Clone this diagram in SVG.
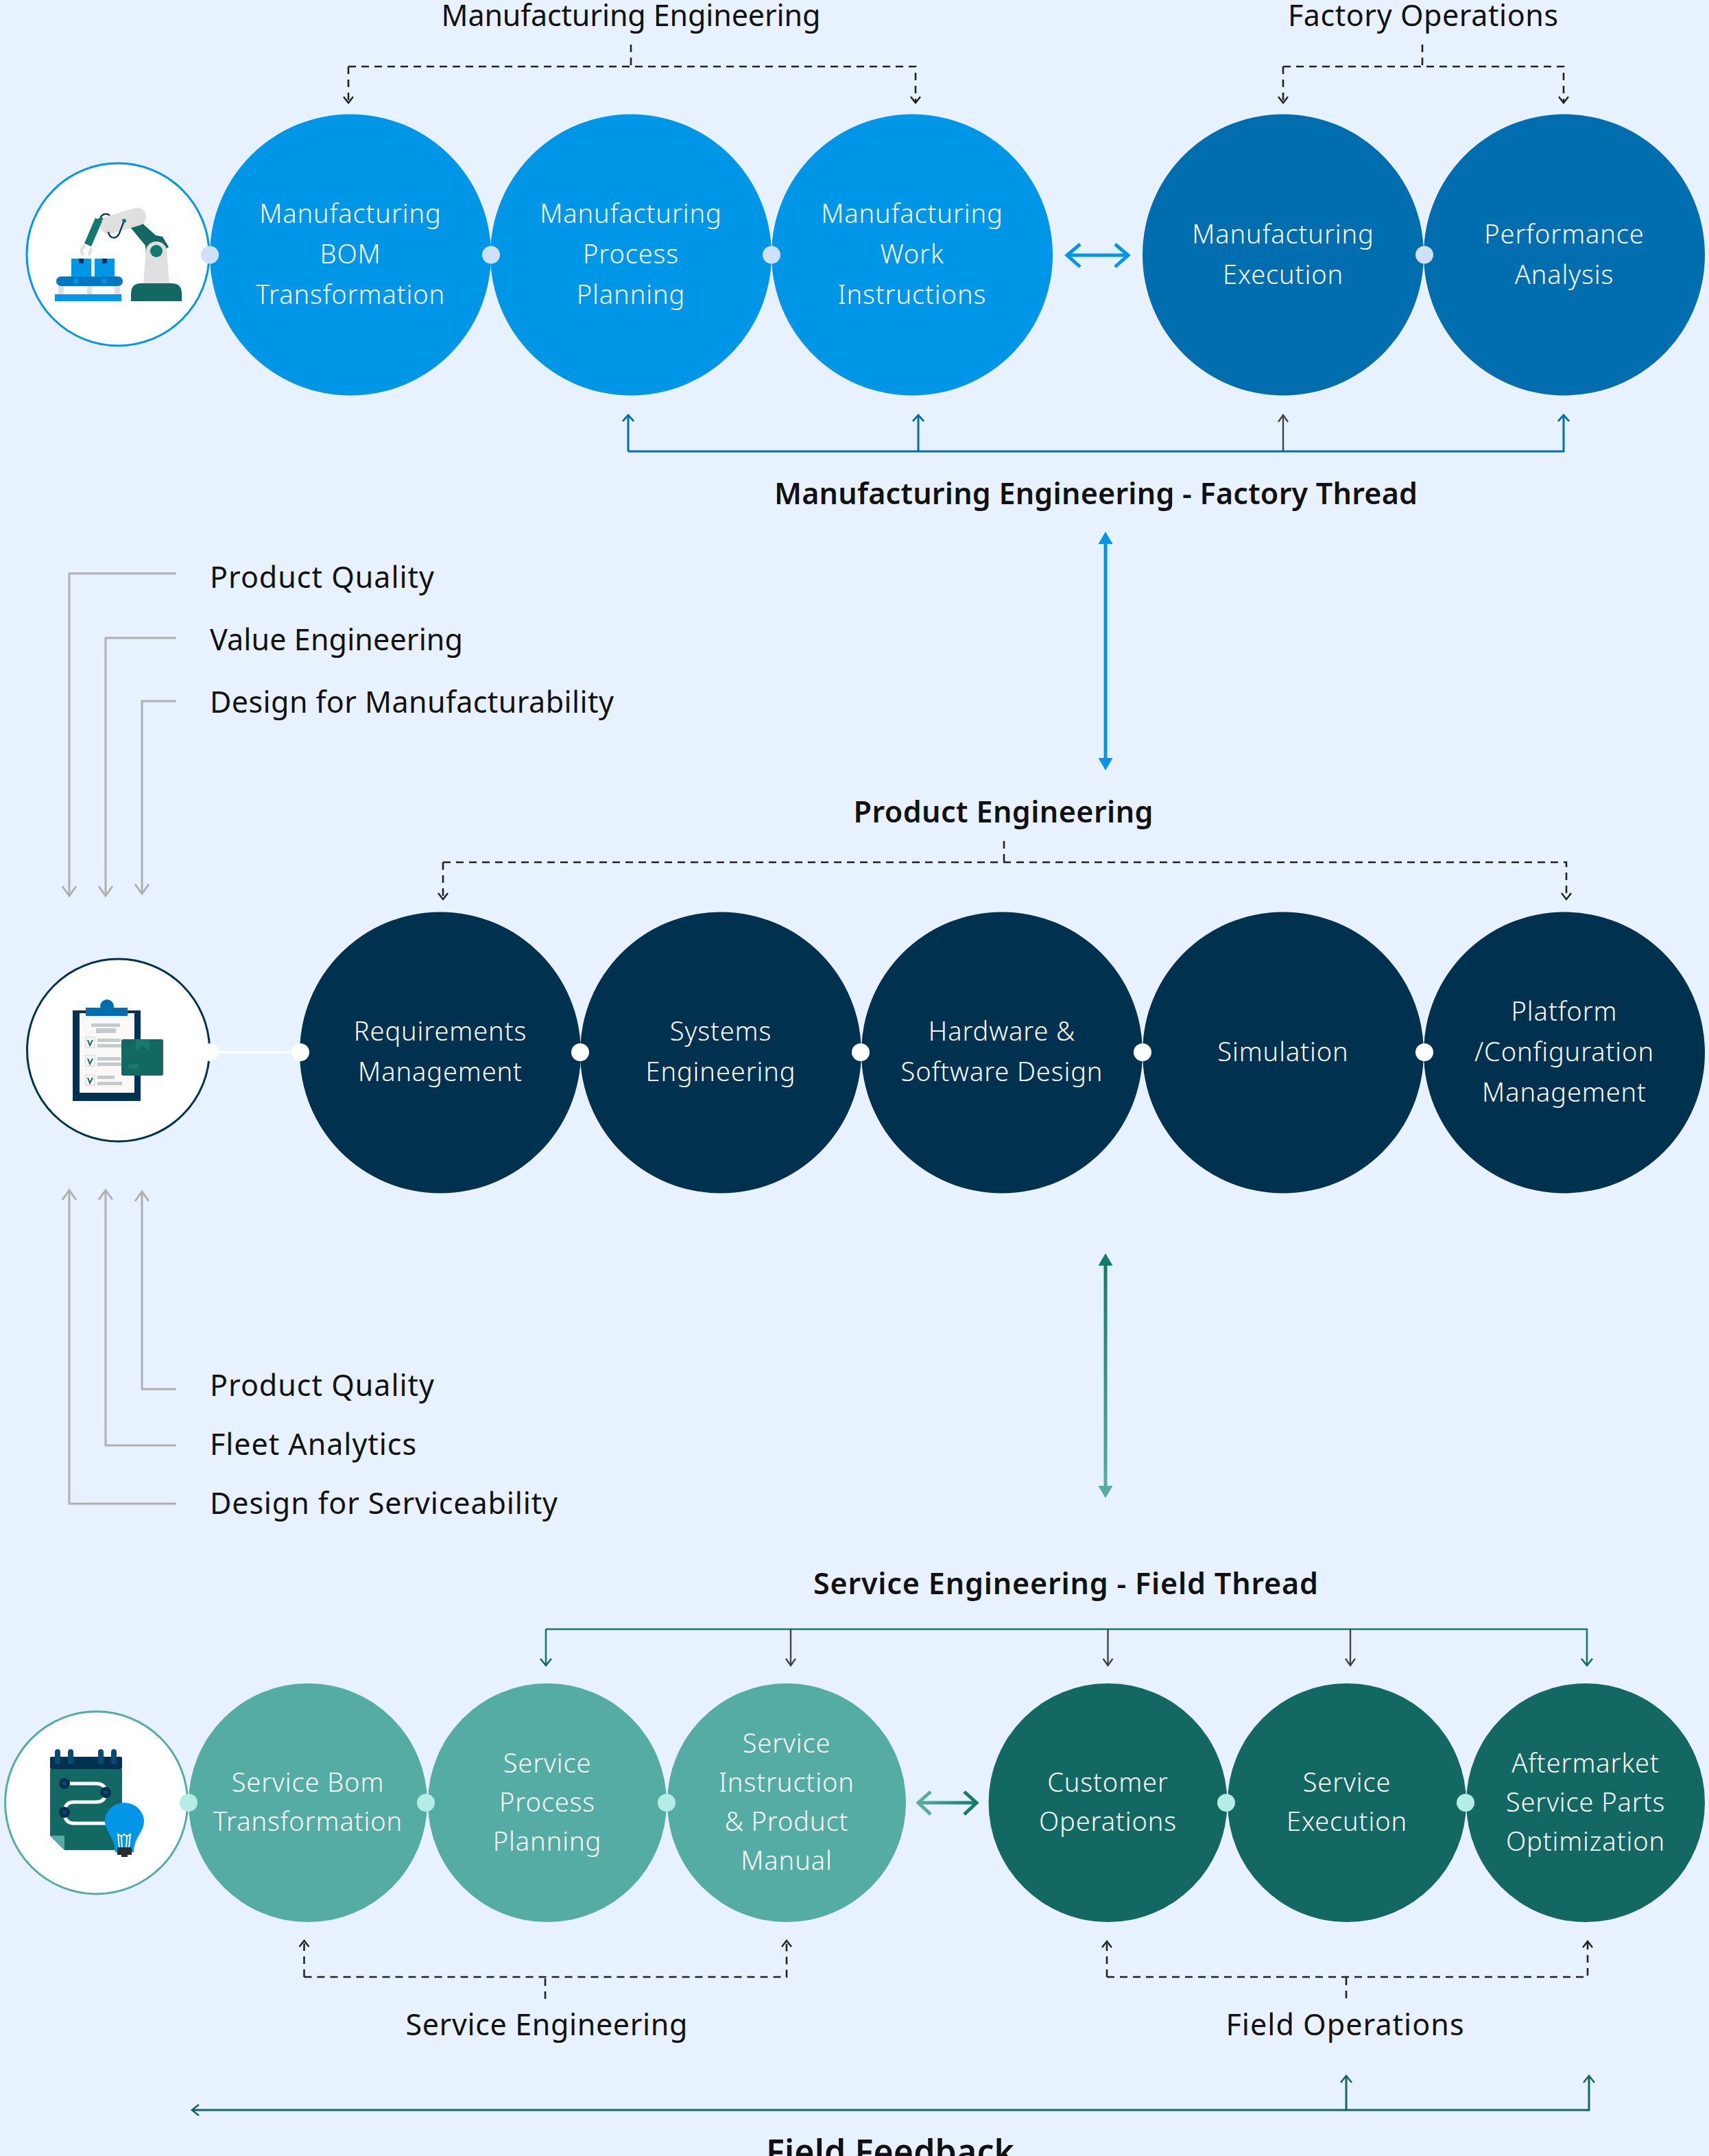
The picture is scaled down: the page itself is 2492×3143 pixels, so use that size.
<svg xmlns="http://www.w3.org/2000/svg" width="2492" height="3143" viewBox="0 0 2492 3143">
<style>
text{font-family:"Noto Sans","Liberation Sans",sans-serif;text-anchor:middle}
.n{fill:#fff;font-size:38px;letter-spacing:.9px;font-weight:300}
.h{fill:#111;font-size:43px}
.b{fill:#111;font-size:43px;font-weight:600}
.l{fill:#111;font-size:43px;text-anchor:start}
.c{fill:none}
.dash{stroke:#222;stroke-width:2.6;stroke-dasharray:11 8}
.mb{fill:#0096e8}.md{fill:#006eae}.pn{fill:#00324f}.lt{fill:#55aca5}.dt{fill:#136864}
.db{fill:#cfe0fb}.dw{fill:#fff}.dg{fill:#b5ece6}
</style>
<defs>
<marker id="aK" markerUnits="userSpaceOnUse" markerWidth="24" markerHeight="24" refX="16" refY="10" orient="auto" overflow="visible"><path d="M7 3L16 10L7 17" fill="none" stroke="#222" stroke-width="2.4"/></marker>
<marker id="aD" markerUnits="userSpaceOnUse" markerWidth="24" markerHeight="24" refX="16" refY="10" orient="auto" overflow="visible"><path d="M6 3L16 10L6 17" fill="none" stroke="#444" stroke-width="2.4"/></marker>
<marker id="aB" markerUnits="userSpaceOnUse" markerWidth="24" markerHeight="24" refX="16" refY="10" orient="auto" overflow="visible"><path d="M7 2L16 10L7 18" fill="none" stroke="#006eae" stroke-width="2.8"/></marker>
<marker id="aT" markerUnits="userSpaceOnUse" markerWidth="24" markerHeight="24" refX="16" refY="10" orient="auto" overflow="visible"><path d="M6 2L16 10L6 18" fill="none" stroke="#136864" stroke-width="2.6"/></marker>
<marker id="aG" markerUnits="userSpaceOnUse" markerWidth="32" markerHeight="32" refX="20" refY="12" orient="auto" overflow="visible"><path d="M6 2L20 12L6 22" fill="none" stroke="#b0b0b0" stroke-width="3"/></marker>
<linearGradient id="gv" gradientUnits="userSpaceOnUse" x1="1612" y1="1840" x2="1612" y2="2170"><stop offset="0" stop-color="#147a6e"/><stop offset="1" stop-color="#55aca5"/></linearGradient>
<linearGradient id="gh" gradientUnits="userSpaceOnUse" x1="1340" y1="2628" x2="1425" y2="2628"><stop offset="0" stop-color="#55aca5"/><stop offset="1" stop-color="#147a6e"/></linearGradient>
</defs>
<rect width="2492" height="3143" fill="#e7f1ff"/>

<g id="connectors" class="c">
<path class="dash" d="M920 65V97M508 97H1335V150" marker-end="url(#aK)"/>
<path class="dash" d="M508 97V150" marker-end="url(#aK)"/>
<path class="dash" d="M2074 65V97M1871 97H2280V150" marker-end="url(#aK)"/>
<path class="dash" d="M1871 97V150" marker-end="url(#aK)"/>
<path d="M916 658H2280V605" fill="none" stroke="#006eae" stroke-width="3" marker-end="url(#aB)"/>
<path d="M916 658V605" fill="none" stroke="#006eae" stroke-width="3" marker-end="url(#aB)"/>
<path d="M1339 658V605" fill="none" stroke="#006eae" stroke-width="3" marker-end="url(#aB)"/>
<path d="M1871 658V605" fill="none" stroke="#444" stroke-width="2.4" marker-end="url(#aD)"/>

<path d="M1560 372H1641" fill="none" stroke="#0096e8" stroke-width="5"/>
<path d="M1575 356L1556 372L1575 389M1626 356L1645 372L1626 389" fill="none" stroke="#0096e8" stroke-width="5"/>

<path d="M1612 790V1108" fill="none" stroke="#0096e8" stroke-width="5"/>
<path d="M1612 775L1622.500 793H1601.500ZM1612 1123L1622.500 1105H1601.500Z" fill="#0096e8"/>

<path d="M257 836H101V1306" fill="none" stroke="#b0b0b0" stroke-width="3" marker-end="url(#aG)"/>
<path d="M257 930H154V1306" fill="none" stroke="#b0b0b0" stroke-width="3" marker-end="url(#aG)"/>
<path d="M257 1022H207V1303" fill="none" stroke="#b0b0b0" stroke-width="3" marker-end="url(#aG)"/>
<path d="M257 2192H101V1735" fill="none" stroke="#b0b0b0" stroke-width="3" marker-end="url(#aG)"/>
<path d="M257 2107H154V1735" fill="none" stroke="#b0b0b0" stroke-width="3" marker-end="url(#aG)"/>
<path d="M257 2025H207V1737" fill="none" stroke="#b0b0b0" stroke-width="3" marker-end="url(#aG)"/>

<path class="dash" d="M1464 1226V1257M646 1257H2284V1311" marker-end="url(#aK)"/>
<path class="dash" d="M646 1257V1311" marker-end="url(#aK)"/>
<path d="M306 1534H438" fill="none" stroke="#fff" stroke-width="3"/>

<path d="M1612 1842V2170" fill="none" stroke="url(#gv)" stroke-width="5"/>
<path d="M1612 1827L1622.500 1845H1601.500Z" fill="#147a6e"/>
<path d="M1612 2184L1622.500 2166H1601.500Z" fill="#55aca5"/>

<path d="M796 2375H2314V2428" fill="none" stroke="#147a6e" stroke-width="2.6" marker-end="url(#aT)"/>
<path d="M796 2375V2428" fill="none" stroke="#147a6e" stroke-width="2.6" marker-end="url(#aT)"/>
<path d="M1153 2375V2428" fill="none" stroke="#444" stroke-width="2.4" marker-end="url(#aD)"/>
<path d="M1615.500 2375V2428" fill="none" stroke="#444" stroke-width="2.4" marker-end="url(#aD)"/>
<path d="M1969 2375V2428" fill="none" stroke="#444" stroke-width="2.4" marker-end="url(#aD)"/>

<path d="M1342 2628H1421" fill="none" stroke="url(#gh)" stroke-width="5"/>
<path d="M1357 2612L1339 2628L1357 2645" fill="none" stroke="#55aca5" stroke-width="5"/>
<path d="M1406 2612L1424 2628L1406 2645" fill="none" stroke="#147a6e" stroke-width="5"/>

<path class="dash" d="M795 2914V2882" />
<path class="dash" d="M443.500 2882V2829" marker-end="url(#aK)"/>
<path class="dash" d="M443.500 2882H1147V2829" marker-end="url(#aK)"/>
<path class="dash" d="M1963 2913V2882"/>
<path class="dash" d="M1614 2882V2830" marker-end="url(#aK)"/>
<path class="dash" d="M1614 2882H2315V2830" marker-end="url(#aK)"/>

<path d="M2317 3076H280" fill="none" stroke="#136864" stroke-width="3" marker-end="url(#aT)"/>
<path d="M2317 3077.500V3026" fill="none" stroke="#136864" stroke-width="3" marker-end="url(#aT)"/>
<path d="M1963 3076V3026" fill="none" stroke="#136864" stroke-width="3" marker-end="url(#aT)"/>
</g>

<g id="labels">
<text class="h" x="920" y="38" textLength="553" lengthAdjust="spacing">Manufacturing Engineering</text>
<text class="h" x="2075" y="38" textLength="394" lengthAdjust="spacing">Factory Operations</text>
<text class="b" x="1598" y="735" textLength="938" lengthAdjust="spacing">Manufacturing Engineering - Factory Thread</text>
<text class="l" x="306" y="857" textLength="327" lengthAdjust="spacing">Product Quality</text>
<text class="l" x="306" y="948" textLength="369" lengthAdjust="spacing">Value Engineering</text>
<text class="l" x="306" y="1039" textLength="589" lengthAdjust="spacing">Design for Manufacturability</text>
<text class="b" x="1463" y="1199" textLength="437" lengthAdjust="spacing">Product Engineering</text>
<text class="l" x="306" y="2035" textLength="327" lengthAdjust="spacing">Product Quality</text>
<text class="l" x="306" y="2121" textLength="301" lengthAdjust="spacing">Fleet Analytics</text>
<text class="l" x="306" y="2207" textLength="507" lengthAdjust="spacing">Design for Serviceability</text>
<text class="b" x="1554" y="2324" textLength="736" lengthAdjust="spacing">Service Engineering - Field Thread</text>
<text class="h" x="797" y="2967" textLength="411" lengthAdjust="spacing">Service Engineering</text>
<text class="h" x="1961" y="2967" textLength="347" lengthAdjust="spacing">Field Operations</text>
<text class="b" x="1298" y="3155" style="font-size:50px" textLength="362" lengthAdjust="spacing">Field Feedback</text>
</g>

<g id="icon-manufacturing">
<circle cx="172" cy="371" r="133" fill="#fff" stroke="#0096e8" stroke-width="3"/>
<rect x="80" y="429" width="97" height="10" fill="#0096e8"/>
<rect x="85" y="408" width="8" height="21" fill="#dfdfdf"/><rect x="127" y="408" width="7" height="21" fill="#dfdfdf"/><rect x="167" y="408" width="8" height="21" fill="#dfdfdf"/>
<rect x="82" y="403" width="97" height="14" rx="7" fill="#0078c0"/>
<circle cx="111" cy="410" r="3.500" fill="#0096e8"/><circle cx="152" cy="410" r="3.500" fill="#0096e8"/>
<rect x="104" y="377" width="29" height="26" fill="#0096e8"/><rect x="138" y="377" width="29" height="26" fill="#0096e8"/>
<rect x="115" y="377" width="7" height="7" fill="#00324f"/><rect x="149" y="377" width="7" height="7" fill="#00324f"/>
<path d="M191 439V428Q191 413 206 413H250Q265 413 265 428V439Z" fill="#136864"/>
<path d="M213 366A15 14 0 0 1 243 366L247 413H209Z" fill="#dfdfdf"/>
<path d="M175 313L188 307L195 320L183 332L207 325L227 343L237 345L246 360L243 362L213 370L212 358Z" fill="#136864"/>
<path d="M213 366A15 14 0 0 1 243 366L243.500 372H212.500Z" fill="#dfdfdf"/>
<circle cx="228" cy="366" r="9" fill="#147a6e"/>
<path d="M146 318C150 310 158 310 162 317" fill="none" stroke="#00324f" stroke-width="2.200"/>
<path d="M159 328L200 316" stroke="#dfdfdf" stroke-width="26" stroke-linecap="round" fill="none"/>
<path d="M158 338C160 349 170 349 174 340L181 322" fill="none" stroke="#00324f" stroke-width="2.200"/>
<circle cx="181" cy="322" r="3" fill="#147a6e"/>
<path d="M144 320L128 357" stroke="#147a6e" stroke-width="11" fill="none"/>
<path d="M143 319L146 323" stroke="#147a6e" stroke-width="12" fill="none"/>
<path d="M124 358Q115 364 122 372M132 361Q134 366 129 372" fill="none" stroke="#dfdfdf" stroke-width="4"/>
</g>
<g id="node-bom"><circle class="mb" cx="511" cy="371.500" r="205"/><text class="n"><tspan x="511" y="324.500">Manufacturing</tspan><tspan x="511" y="384">BOM</tspan><tspan x="511" y="443">Transformation</tspan></text></g>
<g id="node-process"><circle class="mb" cx="920" cy="371.500" r="205"/><text class="n"><tspan x="920" y="324.500">Manufacturing</tspan><tspan x="920" y="384">Process</tspan><tspan x="920" y="443">Planning</tspan></text></g>
<g id="node-work"><circle class="mb" cx="1330" cy="371.500" r="205"/><text class="n"><tspan x="1330" y="324.500">Manufacturing</tspan><tspan x="1330" y="384">Work</tspan><tspan x="1330" y="443">Instructions</tspan></text></g>
<g id="node-exec"><circle class="md" cx="1871" cy="371.500" r="205"/><text class="n"><tspan x="1871" y="354.500">Manufacturing</tspan><tspan x="1871" y="413.500">Execution</tspan></text></g>
<g id="node-perf"><circle class="md" cx="2281" cy="371.500" r="205"/><text class="n"><tspan x="2281" y="354.500">Performance</tspan><tspan x="2281" y="413.500">Analysis</tspan></text></g>
<g id="dots-1"><circle class="db" cx="306" cy="371.500" r="13"/><circle class="db" cx="716" cy="371.500" r="13"/><circle class="db" cx="1125" cy="371.500" r="13"/><circle class="db" cx="2077" cy="371.500" r="13"/></g>

<g id="icon-product">
<circle cx="172.500" cy="1531" r="133" fill="#fff" stroke="#00324f" stroke-width="3"/>
<rect x="106" y="1473" width="99" height="132" fill="#00324f"/>
<rect x="116" y="1477" width="80" height="116" fill="#fdf8f8"/>
<circle cx="156" cy="1467" r="10" fill="#006eae"/>
<rect x="125" y="1469" width="61" height="12" fill="#006eae"/>
<g fill="#c4cbce">
<rect x="133" y="1492" width="42" height="5"/><rect x="140" y="1499" width="29" height="7"/>
<rect x="142" y="1514" width="34" height="5"/><rect x="142" y="1522" width="36" height="5"/>
<rect x="142" y="1541" width="34" height="5"/><rect x="142" y="1549" width="36" height="5"/>
<rect x="142" y="1568" width="25" height="5"/><rect x="142" y="1577" width="36" height="5"/>
</g>
<g fill="#fff" stroke="#d9dcdd" stroke-width="1.500"><rect x="125" y="1512" width="13" height="15"/><rect x="125" y="1539" width="13" height="15"/><rect x="125" y="1567" width="13" height="15"/></g>
<path d="M128 1516L131 1524L135 1516M128 1543L131 1551L135 1543M128 1571L131 1579L135 1571" fill="none" stroke="#136864" stroke-width="2"/>
<rect x="177" y="1515" width="61" height="53" rx="3" fill="#136864"/>
<path d="M198 1515H218V1531L208 1525L198 1531Z" fill="#187a6e"/>
<rect x="187.500" y="1551" width="14.500" height="7" rx="1" fill="#187a6e"/>
</g>
<g id="node-req"><circle class="pn" cx="642" cy="1534.500" r="205"/><text class="n"><tspan x="642" y="1517">Requirements</tspan><tspan x="642" y="1576">Management</tspan></text></g>
<g id="node-sys"><circle class="pn" cx="1051" cy="1534.500" r="205"/><text class="n"><tspan x="1051" y="1517">Systems</tspan><tspan x="1051" y="1576">Engineering</tspan></text></g>
<g id="node-hw"><circle class="pn" cx="1461" cy="1534.500" r="205"/><text class="n"><tspan x="1461" y="1517">Hardware &amp;</tspan><tspan x="1461" y="1576">Software Design</tspan></text></g>
<g id="node-sim"><circle class="pn" cx="1871" cy="1534.500" r="205"/><text class="n" x="1871" y="1547">Simulation</text></g>
<g id="node-platform"><circle class="pn" cx="2281" cy="1534.500" r="205"/><text class="n"><tspan x="2281" y="1487.500">Platform</tspan><tspan x="2281" y="1546.500">/Configuration</tspan><tspan x="2281" y="1605.500">Management</tspan></text></g>
<g id="dots-2"><circle class="dw" cx="306" cy="1534" r="13"/><circle class="dw" cx="438" cy="1534" r="13"/><circle class="dw" cx="846" cy="1534" r="13"/><circle class="dw" cx="1255" cy="1534" r="13"/><circle class="dw" cx="1666" cy="1534" r="13"/><circle class="dw" cx="2077" cy="1534" r="13"/></g>

<g id="icon-service">
<circle cx="140.500" cy="2628" r="133" fill="#fff" stroke="#55aca5" stroke-width="3"/>
<path d="M73 2579H178V2697H94L73 2676Z" fill="#136864"/>
<path d="M73 2676H94V2697Z" fill="#55aca5"/>
<rect x="73" y="2561" width="105" height="18" rx="2" fill="#00324f"/>
<g stroke="#0a4a70" stroke-width="8" stroke-linecap="round"><path d="M84 2554V2568M103 2554V2568M147 2554V2568M166 2554V2568"/></g>
<path d="M94 2600H140Q154 2600 154 2613Q154 2627 140 2627H108Q94 2627 94 2642Q94 2658 108 2658H160" fill="none" stroke="#fff" stroke-width="5"/>
<g fill="#00324f"><circle cx="94" cy="2600" r="8"/><circle cx="154" cy="2613" r="8"/><circle cx="94" cy="2642" r="8"/></g>
<g fill="#0a4a70"><circle cx="94" cy="2600" r="3"/><circle cx="154" cy="2613" r="3"/><circle cx="94" cy="2642" r="3"/></g>
<path d="M181 2628C200 2628 210 2644 210 2654C210 2672 196 2676 195 2700H168C167 2676 153 2672 153 2654C153 2644 163 2628 181 2628Z" fill="#0096e8"/>
<path d="M174 2694L172 2674L177 2677L181 2674L185 2677L190 2674L188 2694M177 2678L178 2694M185 2678L184 2694" fill="none" stroke="#fff" stroke-width="2"/>
<rect x="171" y="2693" width="21" height="11" fill="#2b2b2b"/><rect x="177" y="2704" width="9" height="3" fill="#2b2b2b"/>
</g>
<g id="node-sbom"><circle class="lt" cx="449" cy="2628" r="174"/><text class="n"><tspan x="449" y="2611.500">Service Bom</tspan><tspan x="449" y="2668.500">Transformation</tspan></text></g>
<g id="node-spp"><circle class="lt" cx="798" cy="2628" r="174"/><text class="n"><tspan x="798" y="2583.500">Service</tspan><tspan x="798" y="2640.500">Process</tspan><tspan x="798" y="2697.500">Planning</tspan></text></g>
<g id="node-sim2"><circle class="lt" cx="1147" cy="2628" r="174"/><text class="n"><tspan x="1147" y="2554.500">Service</tspan><tspan x="1147" y="2611.500">Instruction</tspan><tspan x="1147" y="2668.500">&amp; Product</tspan><tspan x="1147" y="2725.500">Manual</tspan></text></g>
<g id="node-cust"><circle class="dt" cx="1615.500" cy="2628" r="174"/><text class="n"><tspan x="1615.500" y="2611.500">Customer</tspan><tspan x="1615.500" y="2668.500">Operations</tspan></text></g>
<g id="node-sexec"><circle class="dt" cx="1964" cy="2628" r="174"/><text class="n"><tspan x="1964" y="2611.500">Service</tspan><tspan x="1964" y="2668.500">Execution</tspan></text></g>
<g id="node-after"><circle class="dt" cx="2312" cy="2628" r="174"/><text class="n"><tspan x="2312" y="2583.500">Aftermarket</tspan><tspan x="2312" y="2640.500">Service Parts</tspan><tspan x="2312" y="2697.500">Optimization</tspan></text></g>
<g id="dots-3"><circle class="dg" cx="275" cy="2628" r="13"/><circle class="dg" cx="621" cy="2628" r="13"/><circle class="dg" cx="972" cy="2628" r="13"/><circle class="dg" cx="1788" cy="2628" r="13"/><circle class="dg" cx="2137" cy="2628" r="13"/></g>
</svg>
